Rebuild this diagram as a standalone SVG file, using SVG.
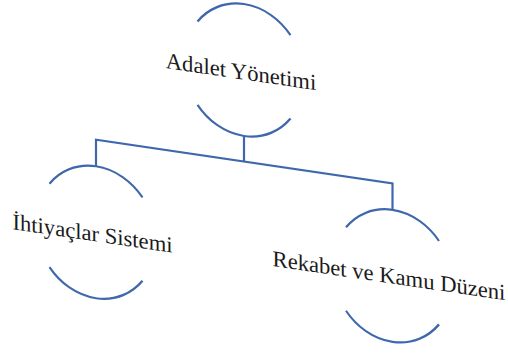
<svg xmlns="http://www.w3.org/2000/svg" width="508" height="353" viewBox="0 0 508 353">
  <style>
    .arc { fill: none; stroke: #3F67AC; stroke-width: 2.2; }
    .link { fill: none; stroke: #3F67AC; stroke-width: 2.2; }
    .label { font-family: "Liberation Serif", "Times New Roman", serif; font-size: 22.6px; fill: #1a1a1a; text-anchor: middle; }
  </style>
  <rect width="508" height="353" fill="#ffffff"/>
  <!-- whole chart is drawn flat, then sheared so horizontals rise to the left -->
  <g transform="matrix(1,0.147,0,1,0,-35.87)">
    <g id="connectors">
      <path class="link" d="M244 136 V161.5"/>
      <path class="link" d="M96 188 V161.5 H392.5 V188"/>
    </g>
    <g id="node-adalet">
      <path class="arc" d="M197.5 28.3 A60 66 0 0 1 290.5 28.3"/>
      <path class="arc" d="M197.5 111.7 A60 66 0 0 0 290.5 111.7"/>
      <text class="label" x="241" y="79.6">Adalet Yönetimi</text>
    </g>
    <g id="node-ihtiyaclar">
      <path class="arc" d="M49.5 212.3 A60 66 0 0 1 142.5 212.3"/>
      <path class="arc" d="M49.5 295.7 A60 66 0 0 0 142.5 295.7"/>
      <text class="label" x="92.5" y="263.2">İhtiyaçlar Sistemi</text>
    </g>
    <g id="node-rekabet">
      <path class="arc" d="M346 212.3 A60 66 0 0 1 439 212.3"/>
      <path class="arc" d="M346 295.7 A60 66 0 0 0 439 295.7"/>
      <text class="label" x="389" y="261.8">Rekabet ve Kamu Düzeni</text>
    </g>
  </g>
</svg>
